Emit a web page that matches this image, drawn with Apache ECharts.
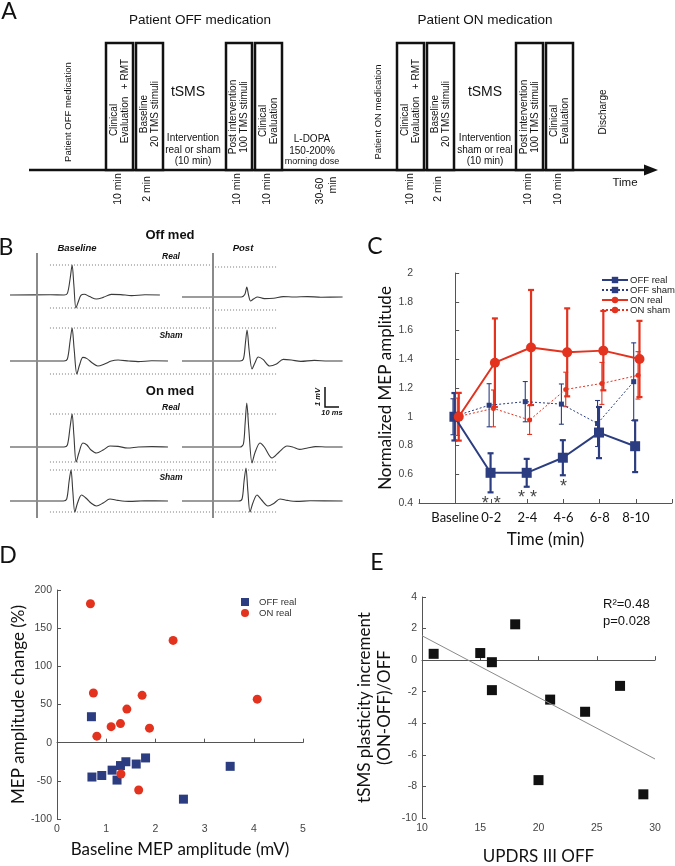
<!DOCTYPE html>
<html><head><meta charset="utf-8">
<script src="https://cdn.jsdelivr.net/npm/echarts@6/dist/echarts.min.js"></script>
<style>html,body{margin:0;padding:0;background:#fff}#c{width:675px;height:866px}</style>
</head><body><div id="c"></div>
<script>
// ================= DATA =================
// Panel B: MEP traces, [time (ms from stimulus), amplitude (mV)]
const offRealBase = [[-20,0],[10,0.01],[20,0],[22.5,0.08],[24.5,0.8],[26,1.5],[27.3,0.5],[28.8,-0.65],[30.5,-0.35],[32.5,-0.02],[35,0.04],[39,-0.08],[44,-0.2],[49,-0.12],[55,0.03],[62,0.02],[70,-0.03],[80,0.01],[91,0]];
const offRealPost = [[-23,0],[10,0],[21,0],[23.5,0.12],[25,0.5],[26.3,0.1],[27.8,-0.2],[30,-0.1],[33,0.0],[38,-0.08],[45,-0.06],[52,0.02],[60,0],[70,0.02],[80,-0.01],[96,0]];
const offShamBase = [[-20,0],[20,0],[22.5,0.1],[24.5,1.0],[26,1.65],[27.5,0.6],[29.5,-0.65],[31.5,-0.2],[34,0.18],[37,0.12],[41,-0.1],[45,-0.25],[50,-0.15],[55,0.0],[60,0.05],[68,0],[75,-0.03],[85,0.01],[97,0]];
const offShamPost = [[-23,0],[20,0],[22.5,0.1],[24,0.9],[25.2,1.55],[26.8,0.5],[28.9,-0.4],[31,-0.1],[33.5,0.2],[37,0.08],[42,-0.25],[47,-0.15],[52,0.08],[58,0.05],[65,-0.02],[75,0.03],[85,0],[96,0]];
const onRealBase  = [[-20,0],[20,0],[22.5,0.1],[24.5,1.0],[26,1.65],[27.3,0.6],[29,-0.75],[31,-0.3],[34,0.2],[37,0.1],[40,-0.15],[44,-0.3],[49,-0.15],[54,0.05],[60,0.03],[67,-0.05],[75,0.0],[85,0.02],[97,0]];
const onRealPost  = [[-23,0],[20,0],[22.5,0.15],[23.8,1.2],[25,2.2],[26.5,0.9],[28.9,-0.8],[31,-0.3],[34.8,0.2],[38,0.0],[43.7,-0.55],[49,-0.25],[54.8,0.05],[59,0.0],[64,-0.12],[70,-0.05],[76,0.02],[85,0],[96,0]];
const onShamBase  = [[-20,0],[19.5,0],[22,0.1],[23.8,1.0],[25.2,1.55],[26.5,0.5],[28,-0.55],[30,-0.1],[33,0.3],[37,0.1],[40,-0.1],[44,-0.25],[49,-0.1],[54,0.1],[60,0.03],[68,-0.02],[80,0.01],[97,0]];
const onShamPost  = [[-23,0],[19,0],[21.5,0.1],[23,1.0],[24.4,1.65],[25.8,0.5],[27.4,-0.55],[29.5,-0.1],[32.6,0.3],[36,0.05],[40.7,-0.25],[45,-0.12],[49.6,0.1],[55,0.03],[62,-0.02],[72,0.01],[96,0]];

// Panel C: normalized MEP amplitude (mean, SEM)
const timeCats    = ['Baseline','0-2','2-4','4-6','6-8','8-10'];
const offRealMean = [1.0, 0.61, 0.61, 0.715, 0.89, 0.795];
const offRealErr  = [0.165, 0.136, 0.097, 0.122, 0.178, 0.18];
const offShamMean = [1.0, 1.08, 1.105, 1.088, 0.953, 1.244];
const offShamErr  = [0.125, 0.15, 0.14, 0.14, 0.16, 0.27];
const onRealMean  = [1.0, 1.376, 1.482, 1.448, 1.46, 1.402];
const onRealErr   = [0.166, 0.308, 0.4, 0.306, 0.276, 0.265];
const onShamMean  = [1.0, 1.058, 0.977, 1.19, 1.232, 1.288];
const onShamErr   = [0.13, 0.128, 0.1, 0.12, 0.146, 0.165];
const sigLabels   = ['', '* *', '* *', '*', '', ''];

// Panel D: baseline MEP amplitude (mV) vs MEP change (%)
const dOffX = [0.70,0.71,0.91,1.12,1.22,1.29,1.40,1.61,1.80,2.57,3.52];
const dOffY = [34,-45,-43,-36,-49,-30,-25,-28,-20,-74,-31];
const dOnX  = [0.68,0.74,0.81,1.10,1.29,1.30,1.42,1.66,1.73,1.88,2.36,4.07];
const dOnY  = [182,65,8.5,21,25,-41,44,-62,62,19,134,57];

// Panel E: UPDRS III OFF vs tSMS plasticity increment
const updrsOff = [11,15,16,16,18,20,21,24,27,29];
const plastInc = [0.4,0.45,-0.13,-1.9,2.27,-7.6,-2.5,-3.27,-1.63,-8.5];

// ================= LAYOUT / STYLE =================
const FA = '"Liberation Sans", Arial, sans-serif';
const FC = 'Lato, "Open Sans", sans-serif';
const NAVY = '#2b3d80', RED = '#e3321e';
const g = [];
function txt(x, y, text, size, o) {
  o = o || {};
  g.push({type:'text', x:x, y:y, rotation:o.rot ? Math.PI/2 : 0, z:10,
    style:{text:text, fontSize:size, fontFamily:o.ff||FA, fontWeight:o.fw||'normal', fontStyle:o.fs||'normal',
      fill:o.c||'#111', align:o.al||'center', verticalAlign:o.va||'middle', lineHeight:o.lh||Math.round(size*1.15)}});
}
// ---- Panel A (timeline diagram)
txt(9, 12, 'A', 23, {ff:FC});
txt(200, 20, 'Patient OFF medication', 13.5);
txt(485, 20, 'Patient ON medication', 13.5);
g.push({type:'line', shape:{x1:29,y1:170,x2:648,y2:170}, style:{stroke:'#111', lineWidth:2.5}});
g.push({type:'polygon', shape:{points:[[644,164.5],[658,170],[644,175.5]]}, style:{fill:'#111'}});
[[106,133],[136,163],[226,252],[255,282],[397,424],[427,454],[516,543],[546,573]].forEach(b => {
  g.push({type:'rect', shape:{x:b[0], y:43, width:b[1]-b[0], height:127}, style:{fill:'#fff', stroke:'#111', lineWidth:2.5}});
});
[[0,0],[291,0]].forEach(o => {
  const d = o[0];
  txt(120+d, 120, 'Clinical\nEvaluation', 10, {rot:1, lh:11});
  txt(125+d, 74, '+ RMT', 10, {rot:1});
  txt(150+d, 114, 'Baseline\n20 TMS stimuli', 10, {rot:1, lh:11});
  txt(239+d, 117, 'Post intervention\n100 TMS stimuli', 10, {rot:1, lh:11});
  txt(269+d, 121, 'Clinical\nEvaluation', 10, {rot:1, lh:11});
});
txt(68, 112, 'Patient OFF medication', 9.5, {rot:1});
txt(378, 112, 'Patient ON medication', 9.5, {rot:1});
txt(603, 112, 'Discharge', 10, {rot:1});
txt(188, 92, 'tSMS', 14); txt(485, 92, 'tSMS', 14);
txt(193, 150, 'Intervention\nreal or sham\n(10 min)', 10, {lh:11.5});
txt(485, 150, 'Intervention\nsham or real\n(10 min)', 10, {lh:11.5});
txt(312, 145, 'L-DOPA\n150-200%', 10, {lh:12});
txt(312, 162, 'morning dose', 9);
[[118,'10 min'],[147,'2 min'],[237,'10 min'],[267,'10 min'],[410,'10 min'],[438,'2 min'],[528,'10 min'],[558,'10 min']].forEach(l => txt(l[0], 189, l[1], 10.5, {rot:1}));
txt(320, 191, '30-60', 10.5, {rot:1}); txt(333, 185, 'min', 10.5, {rot:1});
txt(625, 183, 'Time', 11.5);

// ---- Panel B annotations
txt(6, 248, 'B', 23, {ff:FC});
txt(170, 235, 'Off med', 13, {fw:'bold'});
txt(170, 391, 'On med', 13, {fw:'bold'});
const BI = {fw:'bold', fs:'italic'};
txt(77, 248, 'Baseline', 9.5, BI); txt(243, 248, 'Post', 9.5, BI);
txt(171, 257, 'Real', 8.5, BI); txt(171, 336, 'Sham', 8.5, BI);
txt(171, 408, 'Real', 8.5, BI); txt(171, 478, 'Sham', 8.5, BI);
[37, 213].forEach(x => g.push({type:'line', z:5, shape:{x1:x,y1:253,x2:x,y2:518}, style:{stroke:'#8a8a8a', lineWidth:2}}));
g.push({type:'polyline', shape:{points:[[325,387],[325,407],[339,407]]}, style:{stroke:'#111', lineWidth:1.5, fill:null}});
txt(318, 397, '1 mV', 7.5, {fw:'bold', fs:'italic', rot:1});
txt(332, 413, '10 ms', 7.5, BI);
// ---- Panel letters C, D, E and E stats
txt(375, 247, 'C', 23, {ff:FC});
txt(8, 556, 'D', 23, {ff:FC});
txt(377, 563, 'E', 23, {ff:FC});
txt(603, 604, 'R\u00b2=0.48', 13, {al:'left'});
txt(603, 621, 'p=0.028', 13, {al:'left'});

// ================= OPTION =================
const grids = [], xAxes = [], yAxes = [], series = [];
const baseY = [295, 361, 447, 501], postY = [297, 361, 447, 501];
const traces = [[offRealBase, offRealPost],[offShamBase, offShamPost],[onRealBase, onRealPost],[onShamBase, onShamPost]];
traces.forEach((pair, r) => {
  const mx = Math.max(...pair[0].map(p => p[1])), mn = Math.min(...pair[0].map(p => p[1]));
  [[10, 202, -20, 129.6, baseY[r], [9.6, 129.6]], [182, 161, -23, 96.3, postY[r], [1.5, 48]]].forEach((L, k) => {
    const gi = grids.length;
    grids.push({left:L[0], top:L[4]-50, width:L[1], height:75});
    xAxes.push({type:'value', gridIndex:gi, min:L[2], max:L[3], show:false});
    yAxes.push({type:'value', gridIndex:gi, min:-1.25, max:2.5, show:false});
    [mx, mn].forEach(v => series.push({type:'line', xAxisIndex:gi, yAxisIndex:gi, showSymbol:false, silent:true,
      data:[[L[5][0], v],[L[5][1], v]], lineStyle:{type:[1,2], color:'#777', width:1}}));
    series.push({type:'line', xAxisIndex:gi, yAxisIndex:gi, data:pair[k], showSymbol:false, smooth:0.3, silent:true,
      lineStyle:{color:'#3a3a3a', width:1.1}});
  });
});

// Panel C
const gC = grids.length;
grids.push({left:419, top:273, width:256, height:230});
const axC = {lineStyle:{color:'#555', width:1}};
xAxes.push({type:'value', gridIndex:gC, min:-1, max:6, interval:1, axisLine:axC,
  axisTick:{inside:true, length:4, lineStyle:{color:'#555'}}, splitLine:{show:false},
  axisLabel:{formatter:v => timeCats[v] || '', fontSize:13, color:'#111', fontFamily:FC, margin:8},
  name:'Time (min)', nameLocation:'middle', nameGap:28, nameTextStyle:{fontSize:17, fontFamily:FC, color:'#111'}});
yAxes.push({type:'value', gridIndex:gC, min:0.4, max:2, interval:0.2, axisLine:{show:true, lineStyle:{color:'#555'}},
  axisTick:{show:true, inside:true, length:4, lineStyle:{color:'#555'}}, splitLine:{show:false},
  axisLabel:{fontSize:10.5, color:'#444', fontFamily:FA, margin:6},
  name:'Normalized MEP amplitude', nameLocation:'middle', nameGap:24, nameTextStyle:{fontSize:17, fontFamily:FC, color:'#111'}});
function errRender(capHalf, lw, color) {
  return function(params, api) {
    const x = api.value(0), pLo = api.coord([x, api.value(1)]), pHi = api.coord([x, api.value(2)]);
    const st = {stroke:color, lineWidth:lw};
    return {type:'group', children:[
      {type:'line', shape:{x1:pLo[0], y1:pLo[1], x2:pHi[0], y2:pHi[1]}, style:st},
      {type:'line', shape:{x1:pHi[0]-capHalf, y1:pHi[1], x2:pHi[0]+capHalf, y2:pHi[1]}, style:st},
      {type:'line', shape:{x1:pLo[0]-capHalf, y1:pLo[1], x2:pLo[0]+capHalf, y2:pLo[1]}, style:st}]};
  };
}
function cSeries(name, mean, err, off, color, real) {
  series.push({type:'custom', xAxisIndex:gC, yAxisIndex:gC, silent:true,
    renderItem:errRender(real ? 3 : 2.5, real ? 2.2 : 1.1, color), encode:{x:0, y:[1,2]},
    data:mean.map((m, i) => [i+off, m-err[i], m+err[i]])});
  series.push({type:'line', name:name, xAxisIndex:gC, yAxisIndex:gC, data:mean.map((m, i) => [i+off, m]),
    symbol:name.startsWith('OFF') ? 'rect' : 'circle',
    symbolSize:real ? 10 : 5, itemStyle:{color:color, opacity:1},
    lineStyle:{color:color, width:real ? 2 : 1, type:real ? 'solid' : [2,2]}});
}
cSeries('OFF sham', offShamMean, offShamErr, -0.06, NAVY, false);
cSeries('OFF real', offRealMean, offRealErr, -0.02, NAVY, true);
cSeries('ON sham', onShamMean, onShamErr, 0.06, RED, false);
cSeries('ON real', onRealMean, onRealErr, 0.1, RED, true);
series.push({type:'scatter', xAxisIndex:gC, yAxisIndex:gC, symbolSize:0, silent:true,
  data:offRealMean.map((m, i) => [i, m-offRealErr[i]-0.06]),
  label:{show:true, position:'inside', formatter:p => sigLabels[p.dataIndex], fontSize:18, color:'#111', fontFamily:FA, offset:[0,3]}});

// Panel D
const gD = grids.length;
grids.push({left:57, top:590, width:246, height:229});
const axStyle = {show:true, lineStyle:{color:'#555'}};
const tickStyle = {show:true, inside:true, length:4, lineStyle:{color:'#555'}};
const lblStyle = {fontSize:10.5, color:'#444', fontFamily:FA};
xAxes.push({type:'value', gridIndex:gD, min:0, max:5, interval:1, axisLine:axStyle, axisTick:tickStyle, splitLine:{show:false},
  axisLabel:Object.assign({margin:5}, lblStyle),
  name:'Baseline MEP amplitude (mV)', nameLocation:'middle', nameGap:22, nameTextStyle:{fontSize:17, fontFamily:FC, color:'#111'}});
yAxes.push({type:'value', gridIndex:gD, min:-100, max:200, interval:50, axisLine:axStyle, axisTick:tickStyle, splitLine:{show:false},
  axisLabel:Object.assign({margin:5}, lblStyle),
  name:'MEP amplitude change (%)', nameLocation:'middle', nameGap:30, nameTextStyle:{fontSize:17, fontFamily:FC, color:'#111'}});
series.push({type:'scatter', name:'OFF real ', xAxisIndex:gD, yAxisIndex:gD, symbol:'rect', symbolSize:9,
  itemStyle:{color:NAVY, opacity:1}, data:dOffX.map((x, i) => [x, dOffY[i]])});
series.push({type:'scatter', name:'ON real ', xAxisIndex:gD, yAxisIndex:gD, symbol:'circle', symbolSize:9,
  itemStyle:{color:RED, opacity:1}, data:dOnX.map((x, i) => [x, dOnY[i]])});

// Panel E
const gE = grids.length;
grids.push({left:422, top:597, width:233, height:221});
xAxes.push({type:'value', gridIndex:gE, min:10, max:30, interval:5, axisLine:axStyle, axisTick:tickStyle, splitLine:{show:false},
  axisLabel:Object.assign({margin:5}, lblStyle),
  name:'UPDRS III OFF', nameLocation:'middle', nameGap:30, nameTextStyle:{fontSize:17, fontFamily:FC, color:'#111'}});
yAxes.push({type:'value', gridIndex:gE, min:-10, max:4, interval:2, axisLine:axStyle, axisTick:tickStyle, splitLine:{show:false},
  axisLabel:Object.assign({margin:5}, lblStyle),
  name:'tSMS plasticity increment\n(ON-OFF)/OFF', nameLocation:'middle', nameGap:27,
  nameTextStyle:{fontSize:17, fontFamily:FC, color:'#111', lineHeight:20}});
// least-squares fit from the data
const n = updrsOff.length, mxE = updrsOff.reduce((a, b) => a+b)/n, myE = plastInc.reduce((a, b) => a+b)/n;
let sxy = 0, sxx = 0;
updrsOff.forEach((x, i) => { sxy += (x-mxE)*(plastInc[i]-myE); sxx += (x-mxE)*(x-mxE); });
const slope = sxy/sxx, icpt = myE - slope*mxE;
series.push({type:'line', xAxisIndex:gE, yAxisIndex:gE, showSymbol:false, silent:true,
  data:[[10, icpt+slope*10],[30, icpt+slope*30]], lineStyle:{color:'#8a8a8a', width:1}});
series.push({type:'scatter', xAxisIndex:gE, yAxisIndex:gE, symbol:'rect', symbolSize:10, itemStyle:{color:'#111', opacity:1},
  data:updrsOff.map((x, i) => [x, plastInc[i]])});

const option = {
  animation:false,
  backgroundColor:'#fff',
  grid:grids, xAxis:xAxes, yAxis:yAxes, series:series,
  legend:[
    {data:['OFF real','OFF sham','ON real','ON sham'], orient:'vertical', left:601, top:275, itemWidth:26, itemHeight:8,
     itemGap:0, padding:0, selectedMode:false, textStyle:{fontSize:9.5, color:'#222', fontFamily:FA, lineHeight:9, padding:[0,0,0,-3]}},
    {data:['OFF real ','ON real '], orient:'vertical', left:241, top:597, itemWidth:8, itemHeight:8,
     itemGap:1, padding:0, selectedMode:false, textStyle:{fontSize:9.5, color:'#333', fontFamily:FA, lineHeight:9, padding:[0,0,0,5]}}
  ],
  graphic:g
};
const chart = echarts.init(document.getElementById('c'), null, {renderer:'canvas'});
chart.setOption(option);
</script></body></html>
